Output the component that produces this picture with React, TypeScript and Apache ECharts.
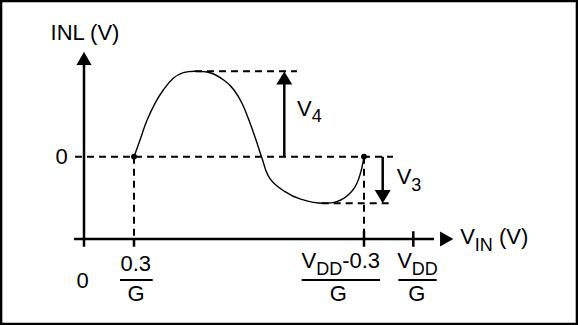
import React, { useEffect, useRef } from "react";
import * as echarts from "echarts";

// Schematic units: x = V_IN position (0 at the INL axis), y = INL (0 at the zero line)
const xTickValues = [0, 5.0, 28.0, 32.93]; // 0, 0.3/G, (VDD-0.3)/G, VDD/G
const inlCurve: [number, number][] = [
  [5.0, 0], [5.6, 1.67], [6.27, 3.57], [7.1, 5.34], [7.93, 6.67], [8.93, 7.84],
  [9.93, 8.4], [11.1, 8.55], [12.6, 8.4], [14.1, 7.57], [15.0, 6.67], [15.8, 5.34],
  [16.6, 3.37], [17.2, 1.67], [17.75, 0], [18.6, -2.2], [20.1, -3.5],
  [21.6, -4.22], [23.9, -4.66], [25.27, -4.5],
  [26.6, -3.66], [27.43, -2.33], [28.0, 0],
];
const zeroLevel = 0;
const peakLevel = 8.55; // V4 top
const troughLevel = -4.66; // V3 bottom
const peakX = 11.1;
const troughX = 23.77;
const v4ArrowX = 20.03;
const v3ArrowX = 29.87;
const xAxisLevel = -8.23;
const yAxisTop = 9.3;
const xAxisEnd = 35.0;

const FONT = "Liberation Sans, Arial, Helvetica, sans-serif";

const seg = (data: (number | string)[][], width = 2.5, type: any = "solid", z = 3) => ({
  type: "line",
  data,
  symbol: "none",
  showSymbol: false,
  silent: true,
  z,
  lineStyle: { color: "#000", width, type, opacity: 1 },
});

export default function App() {
  const ref = useRef<HTMLDivElement>(null);
  useEffect(() => {
    document.body.style.margin = "0";
    const chart = echarts.init(ref.current!, null, { renderer: "svg" });
    const dash = [7, 5];
    const rich = {
      t: { fontSize: 22, lineHeight: 22, fontFamily: FONT, color: "#000" },
      m: { fontSize: 22, lineHeight: 22, padding: [0, 0, 8, 0], fontFamily: FONT, color: "#000" },
      s: { fontSize: 18, lineHeight: 22, padding: [8, 0, 0, 0], fontFamily: FONT, color: "#000" },
    };
    const label = (value: [number, number], text: string, position: any = "inside") => ({
      value,
      label: {
        show: true,
        position,
        distance: 0,
        formatter: text,
        rich,
        fontSize: 22,
        fontFamily: FONT,
        color: "#000",
      },
    });
    const fracBar = (x0: number, x1: number) => seg([[x0, -12.33], [x1, -12.33]], 2, "solid");
    chart.setOption({
      animation: false,
      grid: { left: 4, top: 16.7, width: 570, height: 300 },
      xAxis: { type: "value", min: -8, max: 49, show: false },
      yAxis: { type: "value", min: -16, max: 14, show: false },
      graphic: [
        {
          type: "rect",
          shape: { x: 1.15, y: 1.15, width: 575.7, height: 322.7 },
          style: { fill: "none", stroke: "#000", lineWidth: 2.3 },
        },
      ],
      series: [
        // axes
        seg([[0, -9.0], [0, yAxisTop]]),
        seg([[-1, xAxisLevel], [xAxisEnd, xAxisLevel]]),
        // ticks
        seg([[xTickValues[1], xAxisLevel], [xTickValues[1], -9.0]]),
        seg([[xTickValues[2], xAxisLevel + 0.77], [xTickValues[2], -9.0]]),
        seg([[xTickValues[3], xAxisLevel + 0.77], [xTickValues[3], -9.0]]),
        // dashed guides
        seg([[-0.9, zeroLevel], [30.9, zeroLevel]], 2, dash, 2),
        seg([[peakX, peakLevel], [21.3, peakLevel]], 2, dash, 2),
        seg([[troughX, troughLevel], [30.9, troughLevel]], 2, dash, 2),
        seg([[xTickValues[1], zeroLevel], [xTickValues[1], xAxisLevel]], 2, dash, 2),
        seg([[xTickValues[2], zeroLevel], [xTickValues[2], xAxisLevel]], 2, dash, 2),
        // V4 / V3 arrow shafts
        seg([[v4ArrowX, zeroLevel], [v4ArrowX, 7.3]], 2.5),
        seg([[v3ArrowX, zeroLevel], [v3ArrowX, -3.4]], 2.5),
        // INL curve
        {
          type: "line",
          data: inlCurve,
          smooth: 0.4,
          symbol: "none",
          silent: true,
          z: 4,
          lineStyle: { color: "#000", width: 1.4 },
        },
        // arrowheads
        {
          type: "scatter",
          silent: true,
          z: 5,
          symbol: "triangle",
          itemStyle: { color: "#000", opacity: 1 },
          data: [
            { value: [0, 9.84], symbolSize: [15, 13.3], symbolRotate: 0 },
            { value: [36.27, xAxisLevel], symbolSize: [15, 13.3], symbolRotate: -90 },
            { value: [v4ArrowX, peakLevel - 0.67], symbolSize: [16, 13], symbolRotate: 0 },
            { value: [v3ArrowX, troughLevel + 0.66], symbolSize: [16, 13.3], symbolRotate: 180 },
          ],
        },
        // end points
        {
          type: "scatter",
          silent: true,
          z: 6,
          symbol: "circle",
          symbolSize: 6,
          itemStyle: { color: "#000", opacity: 1 },
          data: [inlCurve[0], inlCurve[inlCurve.length - 1]],
        },
        // fraction bars
        fracBar(3.6, 6.87),
        fracBar(21.77, 29.6),
        fracBar(31.43, 35.27),
        // texts
        {
          type: "scatter",
          silent: true,
          z: 7,
          symbolSize: 0,
          itemStyle: { color: "transparent", opacity: 1 },
          data: [
            label([0.1, 12.42], "{t|INL (V)}"),
            label([-2.23, 0], "{t|0}"),
            label([-0.15, -12.38], "{t|0}"),
            label([5.18, -10.66], "{t|0.3}"),
            label([5.2, -13.66], "{t|G}"),
            label([25.68, -10.81], "{m|V}{s|DD}{m|-0.3}"),
            label([25.43, -13.66], "{t|G}"),
            label([33.35, -10.81], "{m|V}{s|DD}"),
            label([33.27, -13.66], "{t|G}"),
            label([41.02, -8.4], "{m|V}{s|IN}{m| (V)}"),
            label([21.3, 4.47], "{m|V}{s|4}", "right"),
            label([31.27, -2.4], "{m|V}{s|3}", "right"),
          ],
        },
      ],
    });
    return () => chart.dispose();
  }, []);
  return <div ref={ref} style={{ width: 578, height: 325 }} />;
}
